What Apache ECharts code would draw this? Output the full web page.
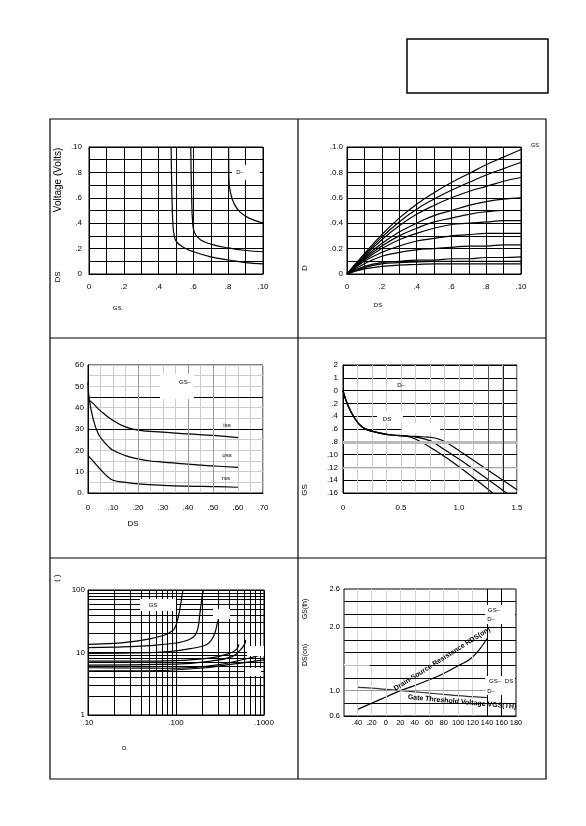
<!DOCTYPE html>
<html>
<head>
<meta charset="utf-8">
<script src="https://cdn.jsdelivr.net/npm/echarts@6/dist/echarts.min.js"></script>
<style>
    html, body { margin: 0; padding: 0; background: #fff; }
    #page { width: 586px; height: 826px; }
</style>
</head>
<body>
<div id="page"></div>
<script>

// Chart data
// ------------------------------

// 1: V(DS) vs V(GS), one curve per drain current
var p1CurveA = [[4.72, 10], [4.74, 8], [4.77, 6], [4.82, 4], [4.9, 3.0], [5.05, 2.5], [5.5, 2.05], [6, 1.75], [7, 1.35], [8, 1.1], [9, 0.9], [10, 0.8]];
var p1CurveB = [[5.85, 10], [5.87, 8], [5.9, 6], [5.95, 4.2], [6.05, 3.3], [6.4, 2.7], [7, 2.35], [8, 2.05], [9, 1.85], [10, 1.75]];
var p1CurveC = [[8.02, 10], [8.03, 8.5], [8.05, 7.2], [8.15, 6.3], [8.35, 5.5], [8.7, 4.85], [9.2, 4.4], [10, 4.0]];

// 2: I(D) vs V(DS), one curve per gate voltage
var p2Vds = [0, 1, 2, 3, 4, 5, 6, 7, 8, 9, 10];
var p2Curves = [
    [0, 0.16, 0.31, 0.44, 0.55, 0.64, 0.72, 0.79, 0.86, 0.92, 0.98],
    [0, 0.15, 0.29, 0.41, 0.51, 0.59, 0.66, 0.72, 0.78, 0.83, 0.88],
    [0, 0.14, 0.27, 0.38, 0.47, 0.54, 0.60, 0.65, 0.69, 0.73, 0.76],
    [0, 0.13, 0.24, 0.33, 0.40, 0.46, 0.50, 0.54, 0.57, 0.59, 0.60],
    [0, 0.12, 0.22, 0.30, 0.36, 0.41, 0.44, 0.47, 0.49, 0.50, 0.50],
    [0, 0.11, 0.20, 0.27, 0.32, 0.36, 0.39, 0.40, 0.41, 0.42, 0.42],
    [0, 0.10, 0.17, 0.22, 0.26, 0.28, 0.30, 0.31, 0.32, 0.32, 0.32],
    [0, 0.08, 0.14, 0.17, 0.19, 0.20, 0.21, 0.22, 0.22, 0.23, 0.23],
    [0, 0.06, 0.09, 0.10, 0.11, 0.11, 0.12, 0.12, 0.13, 0.13, 0.135],
    [0, 0.05, 0.08, 0.09, 0.095, 0.10, 0.10, 0.10, 0.10, 0.10, 0.10],
    [0, 0.04, 0.06, 0.07, 0.075, 0.08, 0.08, 0.08, 0.08, 0.08, 0.08]
];

// 3: capacitance vs V(DS)
var p3Ciss = [[0, 44], [2, 42], [5, 38.5], [10, 34], [15, 31], [20, 29.5], [30, 28.5], [40, 27.7], [50, 27], [60, 26]];
var p3Coss = [[0, 52], [0.5, 44], [2, 35], [4, 28], [6, 24.5], [8, 22], [10, 20], [15, 17.5], [20, 16], [25, 15], [30, 14.5], [40, 13.5], [50, 12.7], [60, 12]];
var p3Crss = [[0, 17.5], [2, 15], [5, 11], [8, 7.5], [10, 6], [15, 5], [20, 4.3], [30, 3.6], [40, 3.2], [50, 3.0], [60, 2.7]];

// 4: gate charge
var p4CurveL = [[0, 0], [0.04, -2.2], [0.1, -4.3], [0.16, -5.6], [0.24, -6.3], [0.4, -6.9], [0.55, -7.1], [0.65, -7.8], [0.79, -9.3], [1.0, -11.9], [1.29, -16]];
var p4CurveM = [[0, 0], [0.04, -2.2], [0.1, -4.3], [0.16, -5.6], [0.24, -6.3], [0.4, -6.9], [0.55, -7.1], [0.65, -7.35], [0.76, -7.9], [0.88, -9.3], [1.05, -11.3], [1.41, -16]];
var p4CurveR = [[0, 0], [0.04, -2.2], [0.1, -4.3], [0.16, -5.6], [0.24, -6.3], [0.4, -6.9], [0.55, -7.1], [0.7, -7.25], [0.8, -7.45], [0.88, -8], [1.05, -10], [1.5, -15.5]];

// 5: on-resistance vs drain current (log-log)
var p5Curves = [
    [[10, 13.5], [20, 14], [30, 14.8], [50, 16.5], [70, 18.5], [85, 21], [96, 24], [105, 35], [112, 55], [116, 75], [120, 100]],
    [[10, 12], [20, 12.2], [50, 12.9], [100, 14.2], [140, 16], [165, 19], [178, 25], [186, 40], [193, 60], [200, 85], [205, 100]],
    [[10, 9.7], [50, 9.9], [100, 10.6], [154, 11.7], [218, 13.2], [250, 15.5], [275, 20], [296, 30], [310, 38]],
    [[10, 7.3], [50, 7.3], [120, 7.5], [250, 8.2], [400, 9.6], [480, 11], [520, 13.5]],
    [[10, 6.3], [100, 6.5], [250, 7.3], [435, 8.6], [540, 11], [600, 13.5], [620, 15.8]],
    [[10, 5.7], [77, 5.6], [283, 6.3], [670, 8.1], [1000, 9.5]],
    [[10, 5.1], [50, 5.1], [184, 5.6], [435, 6.5], [1000, 7.6]]
];

// 6: normalised values vs temperature
var p6Temp = [-40, -20, 0, 20, 40, 60, 80, 100, 120, 140];
var p6RdsOn = [0.7, 0.8, 0.9, 1.0, 1.08, 1.17, 1.27, 1.39, 1.53, 1.82];
var p6VgsTh = [1.05, 1.04, 1.02, 1.0, 0.98, 0.96, 0.94, 0.92, 0.905, 0.89];
var p6TempLabels = [-40, -20, 0, 20, 40, 60, 80, 100, 120, 140, 160, 180];
var p6Levels = [0.8, 1.2, 1.4, 1.6, 1.8, 2.0, 2.2, 2.4];


// Helpers
// ------------------------------

var FONT = '"Liberation Sans", Arial, sans-serif';

var dotted = function(v) {
    return v === 0 ? '0' : '.' + Math.abs(v);
};

var valueAxis = function(gi, min, max, interval, fmt, margin, gridColor) {
    return {
        type: 'value', gridIndex: gi, min: min, max: max, interval: interval,
        axisLine: { show: true, lineStyle: { color: '#000', width: 1 } },
        axisTick: { show: false },
        axisLabel: { color: '#000', fontSize: 8, fontFamily: FONT, margin: margin, formatter: fmt, hideOverlap: false },
        splitLine: { show: gridColor !== null, lineStyle: { color: gridColor || '#000', width: 1 } }
    };
};

var logAxis = function(gi, min, max, fmt, margin) {
    return {
        type: 'log', logBase: 10, gridIndex: gi, min: min, max: max,
        axisLine: { show: true, lineStyle: { color: '#000', width: 1 } },
        axisTick: { show: false },
        axisLabel: { color: '#000', fontSize: 8, fontFamily: FONT, margin: margin, formatter: fmt },
        splitLine: { show: true, lineStyle: { color: '#000', width: 1 } }
    };
};

var curve = function(idx, data, color) {
    return {
        type: 'line', xAxisIndex: idx, yAxisIndex: idx, data: data,
        showSymbol: false, smooth: 0.45, silent: true,
        lineStyle: { color: color || '#000', width: 1.2 }
    };
};

// extra grid lines, drawn below the curves
var gridLines = function(idx, lines) {
    return {
        type: 'line', xAxisIndex: idx, yAxisIndex: idx, data: [], z: 1, silent: true,
        markLine: { silent: true, symbol: 'none', label: { show: false }, animation: false, data: lines }
    };
};

var hl = function(v, color, width) { return { yAxis: v, lineStyle: { type: 'solid', color: color, width: width || 1 } }; };
var vl = function(v, color, width) { return { xAxis: v, lineStyle: { type: 'solid', color: color, width: width || 1 } }; };

var text = function(x, y, s, size, opts) {
    opts = opts || {};
    return {
        type: 'text', x: x, y: y, rotation: opts.rot || 0, z: 110,
        style: {
            text: s, x: 0, y: 0, fill: opts.color || '#000',
            font: (opts.bold ? 'bold ' : '') + size + 'px ' + FONT,
            textAlign: opts.align || 'center', textVerticalAlign: 'middle'
        }
    };
};

var whiteBox = function(x, y, w, h) {
    return { type: 'rect', z: 100, shape: { x: x, y: y, width: w, height: h }, style: { fill: '#fff' } };
};

var frameLine = function(x1, y1, x2, y2) {
    return { type: 'line', z: 120, shape: { x1: x1, y1: y1, x2: x2, y2: y2 }, style: { stroke: '#000', lineWidth: 1.2 } };
};


// Chart setup
// ------------------------------

var page = echarts.init(document.getElementById('page'), null, { renderer: 'canvas' });

var gridBase = { show: true, borderColor: '#000', borderWidth: 1, backgroundColor: 'transparent' };
var grids = [
    Object.assign({ left: 89, top: 147, width: 174, height: 127 }, gridBase),
    Object.assign({ left: 347, top: 147, width: 174, height: 127 }, gridBase),
    Object.assign({ left: 88, top: 365, width: 175, height: 128 }, gridBase),
    Object.assign({ left: 343, top: 365, width: 174, height: 128 }, gridBase),
    Object.assign({ left: 88, top: 590, width: 176, height: 125 }, gridBase),
    Object.assign({ left: 344, top: 589, width: 172, height: 127 }, gridBase)
];

var everyOther = function(v) { return v % 2 ? '' : dotted(v); };

var p6X = valueAxis(5, -58, 180, null, function(v) { return v < 0 ? '.' + (-v) : String(v); }, 3, null);
p6X.axisLabel.customValues = p6TempLabels;
p6X.axisLabel.fontSize = 7.5;
delete p6X.interval;

var p6Y = valueAxis(5, 0.6, 2.6, 0.2, function(v) {
    var n = Math.round(v * 10);
    return (n === 6 || n === 10 || n === 20 || n === 26) ? v.toFixed(1) : '';
}, 4, null);
p6Y.axisLabel.fontSize = 7.5;

var p4X = valueAxis(3, 0, 1.5, 0.5, function(v) { return v === 0 ? '0' : v.toFixed(1); }, 11, '#ccc');
p4X.minorTick = { show: false, splitNumber: 4 };
p4X.minorSplitLine = { show: true, lineStyle: { color: '#ccc', width: 1 } };

var xAxes = [
    valueAxis(0, 0, 10, 1, everyOther, 9, '#000'),
    valueAxis(1, 0, 10, 1, everyOther, 9, '#000'),
    valueAxis(2, 0, 70, 5, function(v) { return v % 10 ? '' : dotted(v); }, 11, '#ccc'),
    p4X,
    logAxis(4, 10, 1000, function(v) { return '.' + v; }, 4),
    p6X
];

var yAxes = [
    valueAxis(0, 0, 10, 1, everyOther, 7, '#000'),
    valueAxis(1, 0, 1, 0.1, function(v) {
        var n = Math.round(v * 10);
        return n % 2 ? '' : (n === 0 ? '0' : '.' + v.toFixed(1));
    }, 4, '#000'),
    valueAxis(2, 0, 60, 5, function(v) { return v % 10 ? '' : (v === 0 ? '0.' : String(v)); }, 4, '#ccc'),
    valueAxis(3, -16, 4, 2, function(v) { return v > 0 ? String(v / 2) : dotted(v); }, 5, '#000'),
    logAxis(4, 1, 100, function(v) { return String(v); }, 3),
    p6Y
];

// minor decade lines for the log panel
var logMinorX = [], logMinorY = [];
[10, 100].forEach(function(d) { for (var k = 2; k <= 9; k++) { logMinorX.push(vl(k * d, '#000')); } });
[1, 10].forEach(function(d) { for (var k = 2; k <= 9; k++) { logMinorY.push(hl(k * d, '#000')); } });

var p6Lines = [-40, -20, 0, 20, 40, 60, 80, 100, 120].map(function(v) { return vl(v, '#d4d4d4'); })
    .concat(p6Levels.map(function(v) { return hl(v, '#000'); }));

var series = [
    curve(0, p1CurveA), curve(0, p1CurveB), curve(0, p1CurveC),

    curve(2, p3Ciss), curve(2, p3Coss), curve(2, p3Crss),
    gridLines(2, [hl(30, '#000'), hl(45, '#000'), vl(20, '#999'), vl(40, '#999'), vl(50, '#999')]),

    curve(3, p4CurveL), curve(3, p4CurveM), curve(3, p4CurveR),
    gridLines(3, [hl(-8, '#bbb', 3), hl(-12, '#ddd', 1.5), vl(1.25, '#555'), vl(1.375, '#222')]),

    gridLines(4, logMinorX.concat(logMinorY)),

    curve(5, p6Temp.map(function(t, i) { return [t, p6RdsOn[i]]; })),
    curve(5, p6Temp.map(function(t, i) { return [t, p6VgsTh[i]]; }), '#333'),
    gridLines(5, p6Lines.concat([
        vl(140, '#000'), vl(160, '#000'), hl(1.0, '#999'),
        [{ coord: [-58, 1.4], lineStyle: { type: 'solid', color: '#fff', width: 1.5 } }, { coord: [-22, 1.4] }]
    ]))
];

p2Curves.forEach(function(c) {
    series.push(curve(1, c.map(function(v, i) { return [p2Vds[i], v]; })));
});

p5Curves.forEach(function(c) {
    series.push(curve(4, c));
});

var graphics = [
    // page frame
    { type: 'rect', z: 120, shape: { x: 407, y: 39, width: 141, height: 54 }, style: { fill: null, stroke: '#000', lineWidth: 1.5 } },
    { type: 'rect', z: 120, shape: { x: 50, y: 119, width: 496, height: 660 }, style: { fill: null, stroke: '#000', lineWidth: 1.2 } },
    frameLine(298, 119, 298, 779),
    frameLine(50, 338, 546, 338),
    frameLine(50, 558, 546, 558),

    // label boxes cut into the grids
    whiteBox(232, 165, 28, 15),
    whiteBox(160, 374, 34, 25),
    whiteBox(377, 411, 26, 12),
    whiteBox(402, 423, 38, 10),
    whiteBox(140, 599, 36, 12),
    whiteBox(213, 609, 17, 10),
    whiteBox(247, 646, 17, 10),
    whiteBox(245, 668, 16, 8),
    whiteBox(485, 605, 30, 19),
    whiteBox(485, 676, 30, 19),

    // panel 1
    text(58, 180, 'Voltage (Volts)', 10, { rot: Math.PI / 2 }),
    text(58, 277, 'DS', 8, { rot: Math.PI / 2 }),
    text(118, 308, 'GS.', 6),
    text(240, 172, 'D\u2013', 6),

    // panel 2
    text(305, 268, 'D', 8, { rot: Math.PI / 2 }),
    text(378, 305, 'DS', 6),
    text(535, 145, 'GS', 5.5),

    // panel 3
    text(185, 382, 'GS\u2013', 6),
    text(227, 425, 'iss', 6),
    text(227, 455, 'oss', 6),
    text(226, 478, 'rss', 6),
    text(133, 524, 'DS', 8),

    // panel 4
    text(401, 385, 'D\u2013', 6),
    text(387, 419, 'DS', 6),
    text(305, 490, 'GS', 8, { rot: Math.PI / 2 }),

    // panel 5
    text(57, 578, '( )', 8, { rot: Math.PI / 2 }),
    text(153, 605, 'GS', 6),
    text(125, 748, 'D.', 6),

    // panel 6
    text(305, 609, 'GS(th)', 7, { rot: Math.PI / 2 }),
    text(305, 655, 'DS(on)', 7, { rot: Math.PI / 2 }),
    text(494, 610, 'GS\u2013', 6),
    text(491, 619, 'D\u2013', 6),
    text(495, 681, 'GS\u2013', 6),
    text(509, 681, 'DS', 6),
    text(491, 691, 'D\u2013', 6),
    text(442, 659, 'Drain-Source Resistance RDS(on)', 7, { rot: 0.565, bold: true }),
    text(462, 702, 'Gate Threshold Voltage VGS(TH)', 7, { rot: -0.09, bold: true })
];

page.setOption({
    animation: false,
    textStyle: { fontFamily: FONT },
    grid: grids,
    xAxis: xAxes,
    yAxis: yAxes,
    series: series,
    graphic: { elements: graphics }
});

</script>
</body>
</html>
